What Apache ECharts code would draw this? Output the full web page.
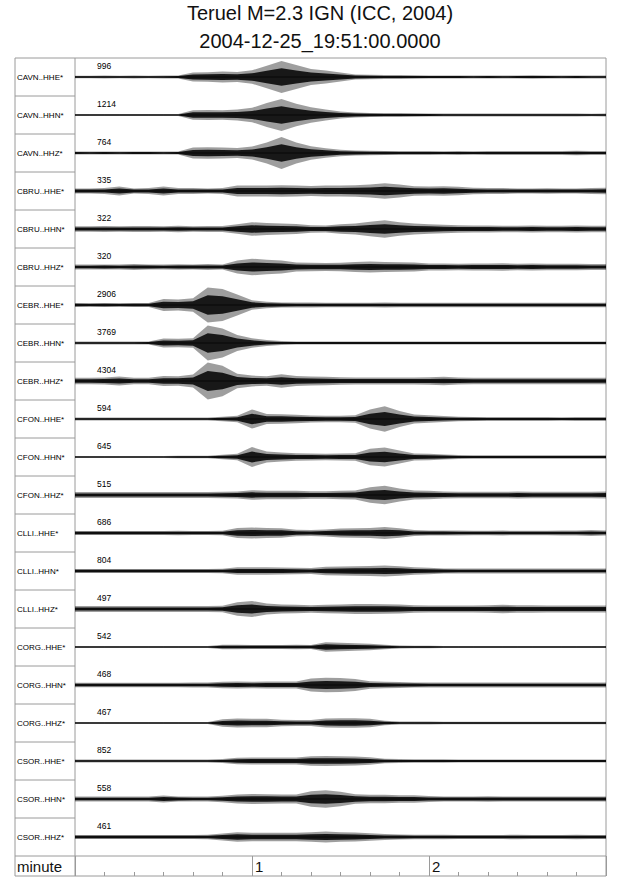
<!DOCTYPE html>
<html>
<head>
<meta charset="utf-8">
<script src="https://cdn.jsdelivr.net/npm/echarts@6/dist/echarts.min.js"></script>
<style>
  html, body { margin: 0; padding: 0; background: #fff; }
  #chart { width: 640px; height: 878px; }
</style>
</head>
<body>
<div id="chart"></div>
<script>
'use strict'

// sample times of the envelopes (seconds after 19:51:00)
const times = [0, 5, 10, 15, 20, 25, 30, 35, 40, 45, 50, 55, 60, 65, 70, 75, 80, 85, 90,
  95, 100, 105, 110, 115, 120, 125, 130, 135, 140, 145, 150, 155, 160, 165, 170, 175, 180]

// station / channel names, top to bottom
const stations = ['CAVN..HHE*', 'CAVN..HHN*', 'CAVN..HHZ*', 'CBRU..HHE*', 'CBRU..HHN*', 'CBRU..HHZ*',
  'CEBR..HHE*', 'CEBR..HHN*', 'CEBR..HHZ*', 'CFON..HHE*', 'CFON..HHN*', 'CFON..HHZ*',
  'CLLI..HHE*', 'CLLI..HHN*', 'CLLI..HHZ*', 'CORG..HHE*', 'CORG..HHN*', 'CORG..HHZ*',
  'CSOR..HHE*', 'CSOR..HHN*', 'CSOR..HHZ*']

// peak amplitude printed above each trace
const peaks = [996, 1214, 764, 335, 322, 320, 2906, 3769, 4304, 594, 645, 515,
  686, 804, 497, 542, 468, 467, 852, 558, 461]

// envelope of each trace (half width, arbitrary units)
const cavnHHE = [8, 8, 9, 8, 9, 8, 9, 10, 28, 30, 34, 32, 42, 70, 100, 75, 50, 40, 28, 16, 14, 12, 12, 11, 10, 10, 10, 9, 10, 9, 10, 11, 10, 9, 10, 9, 9]
const cavnHHN = [6, 6, 6, 6, 6, 6, 6, 7, 30, 32, 30, 35, 45, 75, 100, 70, 48, 35, 22, 16, 13, 12, 12, 11, 10, 9, 9, 9, 9, 9, 9, 9, 9, 9, 9, 8, 9]
const cavnHHZ = [10, 9, 10, 9, 10, 10, 9, 10, 34, 36, 34, 32, 40, 65, 100, 65, 42, 30, 20, 16, 14, 13, 12, 12, 12, 11, 12, 11, 12, 12, 12, 12, 12, 12, 14, 12, 12]
const cbruHHE = [16, 16, 18, 28, 16, 18, 28, 18, 18, 16, 18, 34, 35, 35, 36, 34, 32, 34, 35, 36, 40, 48, 40, 30, 28, 30, 26, 20, 18, 18, 16, 16, 17, 16, 16, 18, 20]
const cbruHHN = [17, 17, 18, 17, 18, 18, 17, 20, 17, 18, 18, 30, 42, 38, 34, 32, 24, 22, 30, 34, 45, 54, 42, 34, 30, 26, 24, 22, 22, 20, 20, 22, 20, 20, 22, 20, 20]
const cbruHHZ = [15, 15, 16, 15, 18, 16, 15, 17, 16, 18, 16, 40, 52, 45, 40, 28, 26, 25, 26, 32, 34, 32, 30, 28, 22, 22, 20, 22, 22, 24, 20, 22, 20, 20, 20, 18, 18]
const cebrHHE = [13, 12, 13, 12, 13, 13, 38, 34, 42, 110, 100, 65, 30, 20, 16, 15, 15, 14, 14, 14, 14, 15, 14, 14, 14, 14, 14, 14, 14, 14, 14, 14, 14, 14, 14, 14, 14]
const cebrHHN = [9, 9, 9, 9, 9, 10, 28, 26, 30, 110, 90, 50, 30, 18, 12, 10, 10, 10, 10, 10, 10, 10, 10, 10, 10, 10, 10, 10, 10, 10, 10, 10, 10, 10, 10, 10, 10]
const cebrHHZ = [20, 20, 22, 28, 20, 20, 32, 30, 40, 115, 95, 45, 34, 30, 42, 32, 28, 26, 24, 22, 22, 22, 22, 22, 24, 26, 22, 20, 20, 20, 20, 20, 20, 20, 20, 20, 20]
const cfonHHE = [9, 9, 9, 9, 9, 9, 9, 9, 9, 9, 14, 20, 60, 32, 30, 26, 22, 20, 20, 24, 60, 80, 50, 28, 24, 18, 14, 13, 12, 12, 12, 12, 12, 11, 12, 12, 12]
const cfonHHN = [7, 7, 7, 7, 7, 7, 7, 8, 8, 8, 14, 20, 62, 34, 28, 24, 22, 20, 22, 24, 52, 60, 40, 22, 20, 16, 12, 11, 11, 11, 11, 11, 11, 11, 11, 11, 11]
const cfonHHZ = [18, 18, 18, 18, 18, 18, 18, 18, 18, 18, 20, 22, 30, 26, 26, 26, 24, 24, 26, 28, 48, 58, 40, 28, 26, 22, 20, 20, 20, 20, 22, 20, 20, 20, 20, 20, 22]
const clliHHE = [13, 13, 13, 13, 13, 13, 13, 14, 13, 13, 14, 32, 34, 32, 30, 20, 18, 22, 28, 30, 32, 38, 30, 18, 16, 16, 15, 14, 14, 15, 14, 14, 14, 15, 15, 18, 15]
const clliHHN = [13, 13, 13, 13, 13, 13, 13, 13, 13, 13, 14, 24, 24, 24, 22, 20, 18, 26, 28, 30, 32, 34, 30, 24, 20, 16, 15, 15, 15, 15, 15, 15, 15, 15, 15, 15, 15]
const clliHHZ = [18, 18, 18, 18, 18, 18, 18, 18, 18, 18, 20, 42, 50, 34, 28, 26, 24, 26, 28, 32, 32, 30, 28, 24, 22, 22, 22, 22, 24, 26, 24, 24, 22, 22, 22, 22, 22]
const corgHHE = [7, 7, 7, 7, 7, 7, 7, 7, 7, 7, 14, 14, 13, 13, 13, 14, 13, 30, 26, 24, 20, 14, 9, 8, 8, 7, 7, 7, 7, 7, 7, 7, 7, 7, 7, 7, 7]
const corgHHN = [14, 14, 14, 14, 14, 14, 14, 14, 15, 15, 20, 22, 20, 22, 22, 22, 40, 45, 44, 38, 24, 20, 18, 16, 15, 15, 15, 15, 15, 15, 15, 15, 15, 15, 15, 15, 15]
const corgHHZ = [7, 7, 7, 7, 7, 7, 7, 7, 7, 7, 24, 28, 26, 26, 20, 18, 18, 28, 30, 30, 26, 14, 9, 9, 9, 8, 8, 8, 8, 8, 8, 8, 8, 8, 8, 8, 8]
const csorHHE = [9, 9, 9, 9, 9, 9, 9, 9, 9, 9, 12, 20, 22, 22, 22, 22, 30, 32, 30, 28, 24, 14, 12, 11, 11, 11, 10, 10, 10, 10, 10, 10, 10, 10, 10, 10, 10]
const csorHHN = [15, 15, 15, 15, 15, 15, 22, 16, 15, 15, 20, 28, 32, 30, 28, 28, 48, 54, 45, 30, 26, 26, 24, 24, 18, 16, 16, 16, 17, 16, 16, 16, 16, 16, 16, 16, 16]
const csorHHZ = [13, 13, 13, 13, 13, 13, 13, 13, 13, 14, 22, 30, 26, 26, 26, 26, 30, 34, 30, 28, 24, 18, 16, 14, 14, 14, 13, 13, 13, 13, 14, 13, 13, 13, 14, 13, 13]

const traces = [cavnHHE, cavnHHN, cavnHHZ, cbruHHE, cbruHHN, cbruHHZ, cebrHHE, cebrHHN, cebrHHZ,
  cfonHHE, cfonHHN, cfonHHZ, clliHHE, clliHHN, clliHHZ, corgHHE, corgHHN, corgHHZ,
  csorHHE, csorHHN, csorHHZ]

// layout
const TOP = 58, ROW = 38, LEFT = 15, PLOT_LEFT = 75, RIGHT = 606
const N = stations.length
const BOTTOM = TOP + N * ROW            // top of the "minute" row
const FOOT = 20                         // height of the "minute" row
const GAIN = 16 / ROW / 100             // envelope unit -> row units
const FONT = 'Liberation Sans, Arial, Helvetica, sans-serif'
const LINE = '#9a9a9a'

let chart = echarts.init(document.getElementById('chart'), null, { renderer: 'svg' })

// outline of one trace envelope, scaled by f (1 = full swing, <1 = dense core)
function band(api, env, c, f) {
    let upper = [], lower = []
    for (let i = 0; i < times.length; i++) {
        upper.push(api.coord([times[i], c + env[i] * GAIN * f]))
        lower.unshift(api.coord([times[i], c - env[i] * GAIN * f]))
    }
    return upper.concat(lower)
}

function renderTrace(params, api) {
    let k = api.value(0)
    let env = traces[k]
    let c = N - k - 0.5
    return {
        type: 'group',
        children: [
            { type: 'polygon', shape: { points: band(api, env, c, 1) }, style: { fill: '#000', opacity: 0.38 } },
            { type: 'polygon', shape: { points: band(api, env, c, 0.55) }, style: { fill: '#000', opacity: 0.85 } },
            { type: 'polyline', shape: { points: band(api, env, c, 0).slice(0, times.length) }, style: { stroke: '#000', lineWidth: 0.7, fill: null } }
        ]
    }
}

let graphics = [
    { type: 'text', left: 'center', top: 3, style: { text: 'Teruel M=2.3 IGN (ICC, 2004)', font: '20px ' + FONT, fill: '#111' } },
    { type: 'text', left: 'center', top: 31, style: { text: '2004-12-25_19:51:00.0000', font: '20px ' + FONT, fill: '#111' } },
    // frame
    { type: 'rect', shape: { x: LEFT, y: TOP, width: RIGHT - LEFT, height: N * ROW + FOOT }, style: { fill: 'none', stroke: LINE, lineWidth: 1 } },
    { type: 'line', shape: { x1: PLOT_LEFT, y1: TOP, x2: PLOT_LEFT, y2: BOTTOM + FOOT }, style: { stroke: LINE, lineWidth: 1 } },
    { type: 'line', shape: { x1: LEFT, y1: BOTTOM, x2: RIGHT, y2: BOTTOM }, style: { stroke: LINE, lineWidth: 1 } },
    { type: 'text', left: LEFT + 2, top: BOTTOM + 3, style: { text: 'minute', font: '15px ' + FONT, fill: '#111' } }
]
stations.forEach(function (name, i) {
    let y = TOP + i * ROW
    if (i > 0) {
        graphics.push({ type: 'line', shape: { x1: LEFT, y1: y, x2: PLOT_LEFT, y2: y }, style: { stroke: LINE, lineWidth: 1 } })
    }
    graphics.push({ type: 'text', left: LEFT + 2, top: y + ROW / 2 - 4, style: { text: name, font: '8px ' + FONT, fill: '#000' } })
    graphics.push({ type: 'text', left: 97, top: y + 3, style: { text: String(peaks[i]), font: '8.5px ' + FONT, fill: '#000' } })
})

let option = {
    animation: false,
    backgroundColor: '#fff',
    grid: [
        { left: PLOT_LEFT, width: RIGHT - PLOT_LEFT, top: TOP, height: N * ROW },
        { left: PLOT_LEFT, width: RIGHT - PLOT_LEFT, top: BOTTOM, height: FOOT }
    ],
    xAxis: [
        { gridIndex: 0, type: 'value', min: 0, max: 180, show: false },
        {
            gridIndex: 1, type: 'value', min: 0, max: 180, interval: 60,
            axisLine: { show: false },
            axisTick: { show: true, inside: true, length: FOOT, lineStyle: { color: LINE } },
            minorTick: { show: true, splitNumber: 6, length: 4, lineStyle: { color: LINE } },
            splitLine: { show: false },
            axisLabel: {
                inside: true, margin: 2, align: 'left', padding: [0, 0, 0, 3],
                color: '#111', fontSize: 15, fontFamily: FONT,
                formatter: function (v) { return (v > 0 && v < 180) ? String(v / 60) : '' }
            }
        }
    ],
    yAxis: [
        { gridIndex: 0, type: 'value', min: 0, max: N, show: false },
        { gridIndex: 1, type: 'value', min: 0, max: 1, show: false }
    ],
    series: [{
        type: 'custom',
        xAxisIndex: 0,
        yAxisIndex: 0,
        renderItem: renderTrace,
        data: traces.map(function (t, k) { return [k] }),
        silent: true
    }],
    graphic: graphics
}

chart.setOption(option)
</script>
</body>
</html>
